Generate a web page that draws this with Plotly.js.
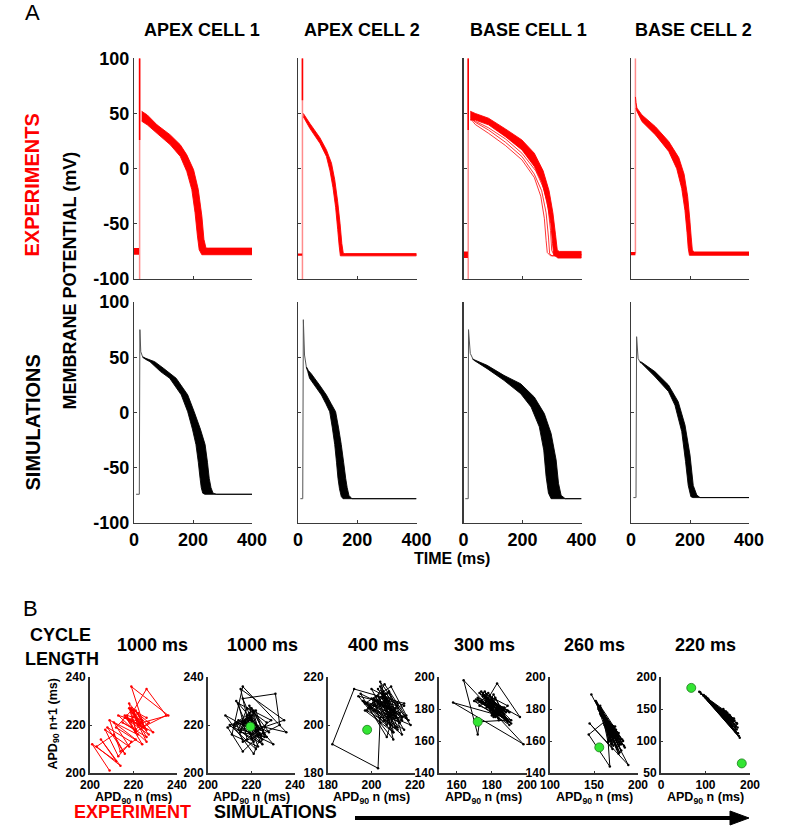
<!DOCTYPE html>
<html><head><meta charset="utf-8">
<script src="https://cdn.plot.ly/plotly-3.0.1.min.js"></script>
<style>html,body{margin:0;padding:0;background:#fff}</style>
</head><body><div id="chart" style="width:785px;height:831px"></div>
<script>
// ================= DATA =================
const cellTitles = ['APEX CELL 1', 'APEX CELL 2', 'BASE CELL 1', 'BASE CELL 2'];
const timeTicks = [0, 200, 400];
const vTicks = [-100, -50, 0, 50, 100];

// ---- Experiments: stimulus artefact & pre-stimulus baseline per cell ----
const expStimT = [19, 15, 16, 15];
const expStimBrightBottom = [26, 62, 35, 100];
const expStimFaintBottom = [-100, -100, -100, -77];
const expPreEndT = [17, 14, 15, 15];
const expPreV = [-75, -78, -78, -77];
const expPreThick = [6, 2, 6, 3];

// ---- Experiments: bundle edges (long = upper/right, short = lower/left) ----
const expApex1LongT = [26, 45, 78, 123, 157, 179, 202, 218, 230, 237, 244, 252, 400];
const expApex1LongV = [52, 48.7, 39.7, 30.6, 21.6, 12.5, -1, -19, -43, -64, -72, -72, -72];
const expApex1ShortT = [26, 45, 78, 123, 157, 179, 196, 207, 215, 221, 230, 400];
const expApex1ShortV = [43, 39.7, 32, 21.6, 11, -2.6, -19, -40, -61, -73.5, -78, -78];

const expApex2LongT = [18, 40, 74, 96, 113, 124, 134, 142, 148, 153, 160, 400];
const expApex2LongV = [50, 41, 28, 17, 5, -10, -30, -50, -68, -77, -77, -77];
const expApex2ShortT = [18, 40, 74, 96, 108, 118, 127, 134, 139, 143, 400];
const expApex2ShortV = [47, 36.5, 23, 11, -2, -17, -35, -55, -70, -79, -79];

const expBase1LongT = [23, 40, 85, 142, 198, 240, 270, 290, 303, 312, 318, 325, 400];
const expBase1LongV = [52, 50, 45.7, 36, 26, 14, -2, -20, -40, -60, -74, -75, -75];
const expBase1ShortT = [23, 40, 85, 142, 198, 240, 265, 283, 296, 302, 306, 320, 400];
const expBase1ShortV = [44, 44, 39.7, 29, 17, 2, -12, -30, -50, -68, -78, -81, -81];
// thinner individual beats of BASE CELL 1 that repolarise earlier
const expBase1Thin1T = [25, 40, 85, 142, 198, 240, 262, 274, 280, 284, 295, 400];
const expBase1Thin1V = [45, 40, 32, 21, 8, -8, -25, -45, -65, -76, -79, -78];
const expBase1Thin2T = [25, 40, 85, 142, 198, 240, 265, 280, 288, 292, 300, 400];
const expBase1Thin2V = [46, 42, 35, 24, 11, -5, -20, -40, -62, -77, -79, -78];
const expBase1Thin3T = [25, 40, 85, 142, 198, 245, 272, 287, 295, 299, 308, 400];
const expBase1Thin3V = [47, 43, 37, 27, 14, -2, -18, -36, -56, -74, -79, -78];

const expBase2LongT = [15, 17, 20, 37, 83, 128, 162, 180, 192, 199, 204, 208, 215, 400];
const expBase2LongV = [65, 60, 55, 48.7, 38, 24.6, 10, -5, -25, -45, -62, -74, -75.5, -75.5];
const expBase2ShortT = [17, 20, 37, 83, 128, 155, 172, 183, 190, 194, 198, 400];
const expBase2ShortV = [55, 52, 42.7, 30.6, 15.6, 0, -18, -38, -58, -72, -78.5, -78.5];

// ---- Simulations: stimulus + spike, then bundle edges ----
const simApex1SpikeT = [7, 17, 18, 20, 23, 29];
const simApex1SpikeV = [-74, -74, -74, 75, 55, 50.5];
const simApex1LongT = [29, 40, 70, 100, 143, 182, 204, 225, 241, 249, 255, 261, 268, 280, 400];
const simApex1LongV = [50.5, 49, 46, 40, 31, 16, 0.7, -15, -29, -45, -59.6, -68, -73, -74, -74];
const simApex1ShortT = [29, 40, 54, 90, 121, 160, 182, 198, 210, 218, 224, 228, 233, 240, 400];
const simApex1ShortV = [50, 48, 46, 37, 31, 16, 0.7, -15, -29, -45, -59.6, -68, -73, -74, -74];

const simApex2SpikeT = [8, 15, 16, 18, 22, 28];
const simApex2SpikeV = [-78, -78, -78, 84, 52, 41.5];
const simApex2LongT = [28, 35, 45, 56, 75, 96, 112, 127, 137, 146, 154, 161, 166, 172, 182, 400];
const simApex2LongV = [41.5, 38, 35, 31, 24, 15.8, 8, 0.7, -14, -29, -45, -59.6, -68, -75, -78, -78];
const simApex2ShortT = [28, 33, 39, 60, 79, 94, 107, 116, 124, 130, 135, 140, 146, 152, 400];
const simApex2ShortV = [41, 37, 31, 23, 15.8, 8, 0.7, -14, -29, -45, -59.6, -69, -76, -78, -78];

const simBase1SpikeT = [6, 15, 16, 17, 23, 31];
const simBase1SpikeV = [-78, -78, -78, 75, 53.5, 49];
const simBase1LongT = [31, 34, 80, 137, 194, 240, 274, 297, 314, 322, 331, 345, 400];
const simBase1LongV = [49, 48, 42.7, 33.6, 26, 14, -1, -19, -43, -64, -75, -78, -78];
const simBase1ShortT = [31, 34, 80, 137, 194, 229, 257, 272, 280, 288, 297, 400];
const simBase1ShortV = [48.5, 47.5, 39.7, 29.1, 17, 5, -13, -34, -58, -73, -78, -78];

const simBase2SpikeT = [8, 16, 17, 19, 24, 30];
const simBase2SpikeV = [-77, -77, -77, 68.6, 49, 46];
const simBase2LongT = [30, 36, 81, 127, 160, 183, 200, 211, 223, 234, 400];
const simBase2LongV = [46, 45.5, 37, 24.9, 9.8, -11.3, -38.5, -66, -74.7, -77, -77];
const simBase2ShortT = [30, 36, 81, 127, 149, 172, 185, 194, 203, 210, 400];
const simBase2ShortV = [45.5, 44.5, 32.5, 19, 6.6, -17.3, -44.5, -66, -76.2, -77, -77];

// ---- Panel B: APD90 beat sequences (return maps APD n vs APD n+1) ----
const cycleLengths = ['1000 ms', '1000 ms', '400 ms', '300 ms', '260 ms', '220 ms'];
const bRangeX = [[200, 240], [200, 240], [180, 220], [150, 200], [100, 200], [0, 200]];
const bRangeY = [[200, 240], [200, 240], [180, 220], [140, 200], [140, 200], [50, 200]];
const bTickX = [[200, 220, 240], [200, 220, 240], [180, 200, 220], [160, 180, 200], [100, 150, 200], [0, 100, 200]];
const bTickY = [[200, 220, 240], [200, 220, 240], [180, 200, 220], [140, 160, 180, 200], [140, 160, 180, 200], [50, 100, 150, 200]];

const apdExp1000 = [209, 201, 212, 205, 214, 203, 211, 216, 208, 219, 213, 207, 218, 211, 221, 214, 209, 222, 216, 224, 212, 219, 226, 215, 221, 218, 229, 217, 223, 220, 226, 235, 224, 219, 226, 213, 224, 221, 218, 227, 216, 223, 220, 225, 219, 236, 224, 221, 226, 218, 222, 225, 219, 227, 221, 217, 224, 222, 220, 226, 223];
const apdSim1000 = [219, 224, 213, 221, 226, 216, 220, 215, 235, 222, 218, 214, 229, 222, 217, 221, 225, 212, 219, 223, 216, 231, 233, 220, 214, 218, 227, 221, 208, 224, 216, 209, 219, 222, 226, 215, 217, 221, 213, 230, 212, 220, 224, 218, 223, 211, 216, 236, 217, 221, 219, 225, 214, 222, 220, 227, 215, 218, 224, 216, 213, 221, 219, 228, 217, 222, 210, 220, 223, 218];
const apdSim400 = [206, 212, 199, 208, 214, 203, 210, 197, 209, 216, 204, 201, 211, 207, 195, 213, 205, 209, 200, 215, 208, 203, 212, 198, 206, 217, 202, 210, 204, 203, 182, 192, 215, 209, 205, 211, 199, 207, 213, 201, 208, 214, 196, 210, 206, 202, 212, 209, 204, 218, 200, 207, 211, 203, 215, 198, 209, 205, 213, 201, 206, 210, 194, 212, 208, 204, 216, 203, 209, 207, 200, 211, 205, 214, 202, 208, 210, 197, 206, 213];
const apdSim300 = [180, 186, 175, 189, 173, 185, 178, 190, 172, 187, 181, 176, 191, 171, 186, 179, 188, 174, 184, 177, 189, 182, 175, 190, 170, 185, 180, 176, 188, 173, 172, 164, 198, 158, 184, 176, 187, 179, 184, 174, 191, 173, 182, 187, 177, 181, 189, 172, 186, 176, 183, 196, 175, 188, 178, 183, 180, 187, 174, 185, 181, 175, 189, 179, 184, 173, 190, 178, 182, 186];
const apdSim260 = [147, 189, 145, 171, 155, 180, 158, 176, 163, 172, 157, 181, 154, 183, 160, 175, 166, 170, 158, 179, 153, 184, 157, 177, 164, 171, 169, 166, 159, 178, 152, 185, 156, 180, 161, 175, 167, 169, 160, 176, 155, 181, 158, 178, 165, 168, 144, 164, 173, 162, 170, 160, 176, 156, 179, 158, 177, 162, 172, 165, 168, 167, 160, 178, 157, 182, 161, 174, 169, 163];
const apdSim220N = [86, 177, 95, 170, 100, 168, 105, 165, 110, 160, 115, 156, 120, 150, 125, 146, 90, 175, 98, 172, 103, 166, 108, 162, 113, 158, 118, 153, 123, 148, 128, 165, 140, 155, 132, 170, 88, 173, 96, 167, 101, 163, 106, 159, 111, 154, 116, 149, 121, 144, 126, 168, 104, 161, 112, 157, 119, 171, 99, 164, 107];
const apdSim220N1 = [177, 105, 171, 118, 168, 114, 165, 126, 162, 123, 158, 136, 154, 133, 151, 146, 174, 108, 170, 121, 167, 117, 163, 130, 160, 126, 156, 141, 152, 135, 149, 132, 150, 140, 146, 128, 176, 112, 172, 122, 169, 119, 166, 134, 161, 129, 157, 144, 153, 138, 150, 124, 166, 131, 160, 137, 155, 127, 169, 135, 163];

// green fixed points (panel index 1..5 = the five simulation maps)
const fixedPanel = [1, 2, 3, 4, 5, 5];
const fixedN = [219.5, 198, 172, 156, 68, 181.5];
const fixedN1 = [219.3, 198, 172, 156, 183, 65];

// ================= BUILD =================
const W = 785, H = 831;
const fx = p => p / W, fy = p => 1 - p / H;
const FONT = '"Liberation Sans", Arial, Helvetica, sans-serif';
const RED = '#ff0000', BLACK = '#000000';

const layout = {
  width: W, height: H, margin: {l: 0, r: 0, t: 0, b: 0}, showlegend: false,
  paper_bgcolor: '#ffffff', plot_bgcolor: 'rgba(0,0,0,0)', annotations: [], shapes: []
};
const traces = [];
const an = i => (i === 1 ? '' : String(i));

const colX = [[134, 252], [298, 416.5], [463.5, 581.5], [631, 749]];
const rowY = [[58.3, 279], [302, 523]];
const bX = [[90, 177], [208, 295], [328, 415], [439, 527], [550, 638], [661, 750]];
const bY = [677, 773];

const axA = {
  showline: true, linecolor: '#3a3a3a', linewidth: 1.2, ticks: 'inside', ticklen: 3, tickwidth: 1,
  tickcolor: '#3a3a3a', showgrid: false, zeroline: false, fixedrange: true,
  tickfont: {family: FONT, size: 18, color: '#000', weight: 'bold'}
};
const axB = {
  showline: true, linecolor: '#333', linewidth: 2, ticks: 'inside', ticklen: 2, tickwidth: 1,
  tickcolor: '#333', showgrid: false, zeroline: false, fixedrange: true,
  tickfont: {family: FONT, size: 12, color: '#000', weight: 'bold'}
};

function line(idx, x, y, color, width, extra) {
  const n = an(idx);
  traces.push(Object.assign({type: 'scatter', mode: 'lines', x, y, xaxis: 'x' + n, yaxis: 'y' + n,
    line: {color, width, simplify: false}, hoverinfo: 'skip'}, extra || {}));
}
// closed polygon: long edge forward, short edge backward
function band(idx, lt, lv, st, sv, color) {
  const px = lt.concat(st.slice().reverse());
  const py = lv.concat(sv.slice().reverse());
  line(idx, px, py, color, 0.9, {fill: 'toself', fillcolor: color});
}

const expBands = [
  [expApex1LongT, expApex1LongV, expApex1ShortT, expApex1ShortV],
  [expApex2LongT, expApex2LongV, expApex2ShortT, expApex2ShortV],
  [expBase1LongT, expBase1LongV, expBase1ShortT, expBase1ShortV],
  [expBase2LongT, expBase2LongV, expBase2ShortT, expBase2ShortV]
];
const simSpikes = [
  [simApex1SpikeT, simApex1SpikeV], [simApex2SpikeT, simApex2SpikeV],
  [simBase1SpikeT, simBase1SpikeV], [simBase2SpikeT, simBase2SpikeV]
];
const simBands = [
  [simApex1LongT, simApex1LongV, simApex1ShortT, simApex1ShortV],
  [simApex2LongT, simApex2LongV, simApex2ShortT, simApex2ShortV],
  [simBase1LongT, simBase1LongV, simBase1ShortT, simBase1ShortV],
  [simBase2LongT, simBase2LongV, simBase2ShortT, simBase2ShortV]
];

for (let row = 0; row < 2; row++) {
  for (let col = 0; col < 4; col++) {
    const idx = row * 4 + col + 1, n = an(idx);
    layout['xaxis' + n] = Object.assign({}, axA, {
      domain: [fx(colX[col][0]), fx(colX[col][1])], range: [0, 400], anchor: 'y' + n,
      tickvals: timeTicks, ticktext: timeTicks.map(String), showticklabels: row === 1
    });
    layout['yaxis' + n] = Object.assign({}, axA, {
      domain: [fy(rowY[row][1]), fy(rowY[row][0])], range: [-100, 100], anchor: 'x' + n,
      tickvals: vTicks, ticktext: vTicks.map(String), showticklabels: col === 0
    });
    if (row === 0) {
      const pxPerMv = (rowY[0][1] - rowY[0][0]) / 200;
      line(idx, [0, expPreEndT[col]], [expPreV[col], expPreV[col]], RED, expPreThick[col] * pxPerMv);
      line(idx, [expStimT[col], expStimT[col]], [expStimFaintBottom[col], 100], 'rgba(255,0,0,0.45)', 1.5);
      line(idx, [expStimT[col], expStimT[col]], [expStimBrightBottom[col], 100], RED, 1.5);
      const b = expBands[col];
      band(idx, b[0], b[1], b[2], b[3], RED);
      if (col === 2) {
        line(idx, expBase1Thin1T, expBase1Thin1V, RED, 0.8);
        line(idx, expBase1Thin2T, expBase1Thin2V, RED, 0.8);
        line(idx, expBase1Thin3T, expBase1Thin3V, RED, 0.8);
      }
    } else {
      line(idx, simSpikes[col][0], simSpikes[col][1], '#555', 1);
      const b = simBands[col];
      band(idx, b[0], b[1], b[2], b[3], BLACK);
    }
  }
}

// ---- Panel B ----
const seqs = [apdExp1000, apdSim1000, apdSim400, apdSim300, apdSim260];
for (let k = 0; k < 6; k++) {
  const idx = 9 + k, n = an(idx);
  layout['xaxis' + n] = Object.assign({}, axB, {
    domain: [fx(bX[k][0]), fx(bX[k][1])], range: bRangeX[k], anchor: 'y' + n,
    tickvals: bTickX[k], ticktext: bTickX[k].map(String)
  });
  layout['yaxis' + n] = Object.assign({}, axB, {
    domain: [fy(bY[1]), fy(bY[0])], range: bRangeY[k], anchor: 'x' + n,
    tickvals: bTickY[k], ticktext: bTickY[k].map(String)
  });
  let xs, ys;
  if (k < 5) { xs = seqs[k].slice(0, -1); ys = seqs[k].slice(1); }
  else { xs = apdSim220N; ys = apdSim220N1; }
  const c = k === 0 ? RED : BLACK;
  traces.push({type: 'scatter', mode: 'lines+markers', x: xs, y: ys, xaxis: 'x' + n, yaxis: 'y' + n,
    line: {color: c, width: 1, simplify: false}, marker: {color: c, size: 2.5}, hoverinfo: 'skip'});
}
for (let i = 0; i < fixedPanel.length; i++) {
  const n = an(9 + fixedPanel[i]);
  traces.push({type: 'scatter', mode: 'markers', x: [fixedN[i]], y: [fixedN1[i]], xaxis: 'x' + n, yaxis: 'y' + n,
    marker: {color: '#33e533', size: 9, line: {color: '#1a7a1a', width: 0.8}}, hoverinfo: 'skip'});
}

// ---- Text ----
function note(text, px, py, size, opts) {
  layout.annotations.push(Object.assign({
    text, x: fx(px), y: fy(py), xref: 'paper', yref: 'paper', showarrow: false, borderpad: 0,
    xanchor: 'center', yanchor: 'middle', font: {family: FONT, size, color: '#000'}
  }, opts || {}));
}
note('A', 32.5, 12.5, 22);
note('B', 30, 608, 22);
const titleX = [202, 362, 528, 693];
cellTitles.forEach((t, i) => note('<b>' + t + '</b>', titleX[i], 30, 18));
note('<b>EXPERIMENTS</b>', 31.5, 185, 20, {textangle: -90, font: {family: FONT, size: 20, color: RED}});
note('<b>SIMULATIONS</b>', 32.5, 423, 20, {textangle: -90});
note('<b>MEMBRANE POTENTIAL (mV)</b>', 69.5, 281, 18, {textangle: -90});
note('<b>TIME (ms)</b>', 451.5, 558, 16);

note('<b>CYCLE</b>', 60.5, 634.5, 18);
note('<b>LENGTH</b>', 61.5, 658.5, 18);
const bTitleX = [152.5, 262, 378, 484, 594, 705];
cycleLengths.forEach((t, i) => note('<b>' + t + '</b>', bTitleX[i], 645, 18));
bX.forEach(d => note('<b>APD<sub>90</sub> n (ms)</b>', (d[0] + d[1]) / 2, 789, 12.5, {yanchor: 'top'}));
note('<b>APD<sub>90</sub> n+1 (ms)</b>', 53.5, 724, 12.5, {textangle: -90});
note('<b>EXPERIMENT</b>', 132, 812, 18, {font: {family: FONT, size: 18, color: RED}});
note('<b>SIMULATIONS</b>', 275, 812, 18);

// arrow
layout.shapes.push({type: 'line', xref: 'paper', yref: 'paper', x0: fx(355), x1: fx(734), y0: fy(818), y1: fy(818),
  line: {color: '#000', width: 4}});
layout.shapes.push({type: 'path', xref: 'paper', yref: 'paper',
  path: `M ${fx(730)} ${fy(811)} L ${fx(749)} ${fy(818)} L ${fx(730)} ${fy(825)} Z`,
  fillcolor: '#000', line: {color: '#000', width: 1}});

Plotly.newPlot('chart', traces, layout, {staticPlot: true, displayModeBar: false});
</script>
</body></html>
